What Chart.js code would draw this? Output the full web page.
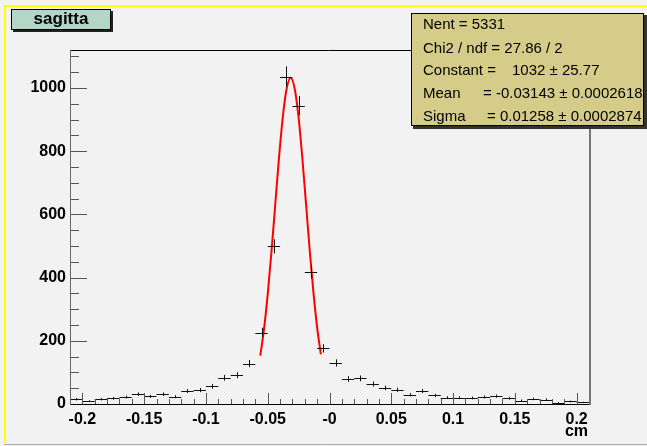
<!DOCTYPE html>
<html>
<head>
<meta charset="utf-8">
<title>sagitta</title>
<script src="https://cdn.jsdelivr.net/npm/chart.js@4.4.1/dist/chart.umd.min.js"></script>
<style>
  html, body { margin: 0; padding: 0; background: #f2f2f2; }
  #wrap { width: 647px; height: 446px; }
</style>
</head>
<body>
<div id="wrap"><canvas id="c" width="647" height="446"></canvas></div>
<script>
// histogram bins (cm) and entries
const binCenters = [
  -0.205, -0.195, -0.185, -0.175, -0.165, -0.155, -0.145, -0.135, -0.125, -0.115,
  -0.105, -0.095, -0.085, -0.075, -0.065, -0.055, -0.045, -0.035, -0.025, -0.015,
  -0.005, 0.005, 0.015, 0.025, 0.035, 0.045, 0.055, 0.065, 0.075, 0.085,
  0.095, 0.105, 0.115, 0.125, 0.135, 0.145, 0.155, 0.165, 0.175, 0.185,
  0.195, 0.205
];
const counts = [
  15, 9, 15, 18, 22, 31, 24, 31, 23, 41,
  44, 56, 83, 91, 128, 226, 499, 1036, 944, 418,
  176, 130, 79, 81, 63, 51, 45, 29, 41, 27,
  20, 20, 19, 22, 25, 18, 11, 16, 14, 4,
  8, 5
];
const binWidth = 0.01;

// gaussian fit curve
const fitX = [-0.056, -0.053, -0.050, -0.047, -0.044, -0.041, -0.038, -0.035, -0.0314,
              -0.028, -0.025, -0.022, -0.019, -0.016, -0.013, -0.010, -0.007];
const fitY = [153, 237, 347, 480, 626, 773, 900, 991, 1032,
              994, 906, 779, 633, 486, 353, 242, 157];

// axes
const xTickValues = [-0.2, -0.15, -0.1, -0.05, 0, 0.05, 0.1, 0.15, 0.2];
const xTickLabels = ['-0.2', '-0.15', '-0.1', '-0.05', '-0', '0.05', '0.1', '0.15', '0.2'];
const yTickValues = [0, 200, 400, 600, 800, 1000];
const yTickLabels = ['0', '200', '400', '600', '800', '1000'];

const statsLines = [
  ['Nent = 5331', ''],
  ['Chi2 / ndf = 27.86 / 2', ''],
  ['Constant =', '1032 \u00b1 25.77'],
  ['Mean', '= -0.03143 \u00b1 0.0002618'],
  ['Sigma', '= 0.01258 \u00b1 0.0002874']
];

const FONT = '"Liberation Sans", Arial, Helvetica, sans-serif';

const rootPlugin = {
  id: 'rootLook',
  beforeDraw(chart) {
    const ctx = chart.ctx;
    ctx.save();
    ctx.fillStyle = '#f2f2f2';
    ctx.fillRect(0, 0, chart.width, chart.height);
    ctx.restore();
  },
  afterDatasetsDraw(chart) {
    const ctx = chart.ctx;
    const xs = chart.scales.x, ys = chart.scales.y;
    const meta = chart.getDatasetMeta(0);
    ctx.save();
    ctx.strokeStyle = '#111';
    ctx.lineWidth = 1;
    meta.data.forEach((pt, i) => {
      const x0 = xs.getPixelForValue(binCenters[i] - binWidth / 2);
      const x1 = xs.getPixelForValue(binCenters[i] + binWidth / 2);
      const err = Math.sqrt(counts[i]);
      const yTop = ys.getPixelForValue(counts[i] + err);
      const yBot = ys.getPixelForValue(Math.max(0, counts[i] - err));
      const py = Math.round(pt.y) + 0.5;
      const px = Math.round(pt.x) + 0.5;
      ctx.beginPath();
      ctx.moveTo(x0, py); ctx.lineTo(x1, py);
      ctx.moveTo(px, yTop); ctx.lineTo(px, yBot);
      ctx.stroke();
    });
    ctx.restore();
  },
  afterDraw(chart) {
    const ctx = chart.ctx;
    const a = chart.chartArea;
    const xs = chart.scales.x, ys = chart.scales.y;
    ctx.save();

    // ticks, pointing into the frame
    ctx.strokeStyle = '#555';
    ctx.lineWidth = 1;
    ctx.beginPath();
    for (let v = 0; v <= ys.max + 1e-9; v += 50) {
      const y = Math.round(ys.getPixelForValue(v)) + 0.5;
      const len = (v % 200 === 0) ? 17 : 9;
      ctx.moveTo(a.left, y); ctx.lineTo(a.left + len, y);
    }
    for (let k = -20; k <= 20; k++) {
      const v = k / 100;
      const x = Math.round(xs.getPixelForValue(v)) + 0.5;
      const len = (k % 5 === 0) ? 11 : 5;
      ctx.moveTo(x, a.bottom); ctx.lineTo(x, a.bottom - len);
    }
    ctx.stroke();

    // frame
    ctx.strokeStyle = '#000';
    ctx.beginPath();
    ctx.moveTo(a.left, a.top + 0.5); ctx.lineTo(a.right, a.top + 0.5);
    ctx.moveTo(a.left, a.bottom + 0.5); ctx.lineTo(a.right, a.bottom + 0.5);
    ctx.stroke();
    ctx.strokeStyle = '#666';
    ctx.beginPath();
    ctx.moveTo(a.left + 0.5, a.top); ctx.lineTo(a.left + 0.5, a.bottom + 1);
    ctx.stroke();
    ctx.lineWidth = 2;
    ctx.strokeStyle = '#777';
    ctx.beginPath();
    ctx.moveTo(a.right + 1, a.top); ctx.lineTo(a.right + 1, a.bottom + 1);
    ctx.stroke();

    // axis title
    ctx.fillStyle = '#000';
    ctx.font = 'bold 16px ' + FONT;
    ctx.textAlign = 'right';
    ctx.textBaseline = 'middle';
    ctx.fillText('cm', a.right - 1, 432);

    // title box
    ctx.fillStyle = '#222';
    ctx.fillRect(13, 11, 100, 21);
    ctx.fillStyle = '#b3d6c9';
    ctx.fillRect(11, 9, 100, 21);
    ctx.lineWidth = 1;
    ctx.strokeStyle = '#000';
    ctx.strokeRect(11.5, 9.5, 99, 20);
    ctx.fillStyle = '#000';
    ctx.font = 'bold 17px ' + FONT;
    ctx.textAlign = 'center';
    ctx.fillText('sagitta', 61, 19.5);

    // stats box
    ctx.fillStyle = '#333';
    ctx.fillRect(413, 15, 234, 114);
    ctx.fillStyle = '#d4cc88';
    ctx.fillRect(411, 13, 233, 113);
    ctx.strokeStyle = '#000';
    ctx.strokeRect(411.5, 13.5, 232, 112);
    ctx.fillStyle = '#000';
    ctx.font = '15px ' + FONT;
    ctx.textAlign = 'left';
    const rowY = [25, 48.5, 71, 94, 117];
    const valX = [0, 0, 512, 483, 487];
    statsLines.forEach((ln, i) => {
      ctx.fillText(ln[0], 423, rowY[i]);
      if (ln[1]) ctx.fillText(ln[1], valX[i], rowY[i]);
    });

    // pad border
    ctx.strokeStyle = '#ffff00';
    ctx.lineWidth = 2;
    ctx.beginPath();
    ctx.moveTo(5, 443); ctx.lineTo(5, 6); ctx.lineTo(647, 6);
    ctx.stroke();
    ctx.strokeStyle = '#aaa';
    ctx.lineWidth = 1;
    ctx.beginPath();
    ctx.moveTo(4, 444.5); ctx.lineTo(647, 444.5);
    ctx.stroke();

    ctx.restore();
  }
};

new Chart(document.getElementById('c'), {
  type: 'scatter',
  data: {
    datasets: [
      {
        label: 'sagitta',
        data: binCenters.map((x, i) => ({ x: x, y: counts[i] })),
        pointRadius: 0,
        showLine: false
      },
      {
        label: 'gaus',
        data: fitX.map((x, i) => ({ x: x, y: fitY[i] })),
        showLine: true,
        borderColor: '#ff0000',
        borderWidth: 2,
        pointRadius: 0,
        cubicInterpolationMode: 'monotone',
        fill: false
      }
    ]
  },
  options: {
    responsive: false,
    animation: false,
    layout: { padding: { left: 0, right: 58, top: 50, bottom: 12 } },
    plugins: { legend: { display: false }, tooltip: { enabled: false } },
    scales: {
      x: {
        type: 'linear',
        min: -0.21,
        max: 0.21,
        grid: { display: false, drawTicks: false },
        border: { display: false },
        afterBuildTicks: s => { s.ticks = xTickValues.map(v => ({ value: v })); },
        afterFit: s => { s.height = 30; },
        ticks: {
          autoSkip: false,
          maxRotation: 0,
          padding: 6,
          color: '#000',
          font: { family: FONT, size: 16, weight: 'bold' },
          callback: (v, i) => xTickLabels[i]
        }
      },
      y: {
        type: 'linear',
        min: 0,
        max: 1120,
        grid: { display: false, drawTicks: false },
        border: { display: false },
        afterBuildTicks: s => { s.ticks = yTickValues.map(v => ({ value: v })); },
        afterFit: s => { s.width = 70; },
        ticks: {
          autoSkip: false,
          padding: 4,
          color: '#000',
          font: { family: FONT, size: 16, weight: 'bold' },
          callback: (v, i) => yTickLabels[i]
        }
      }
    }
  },
  plugins: [rootPlugin]
});
</script>
</body>
</html>
